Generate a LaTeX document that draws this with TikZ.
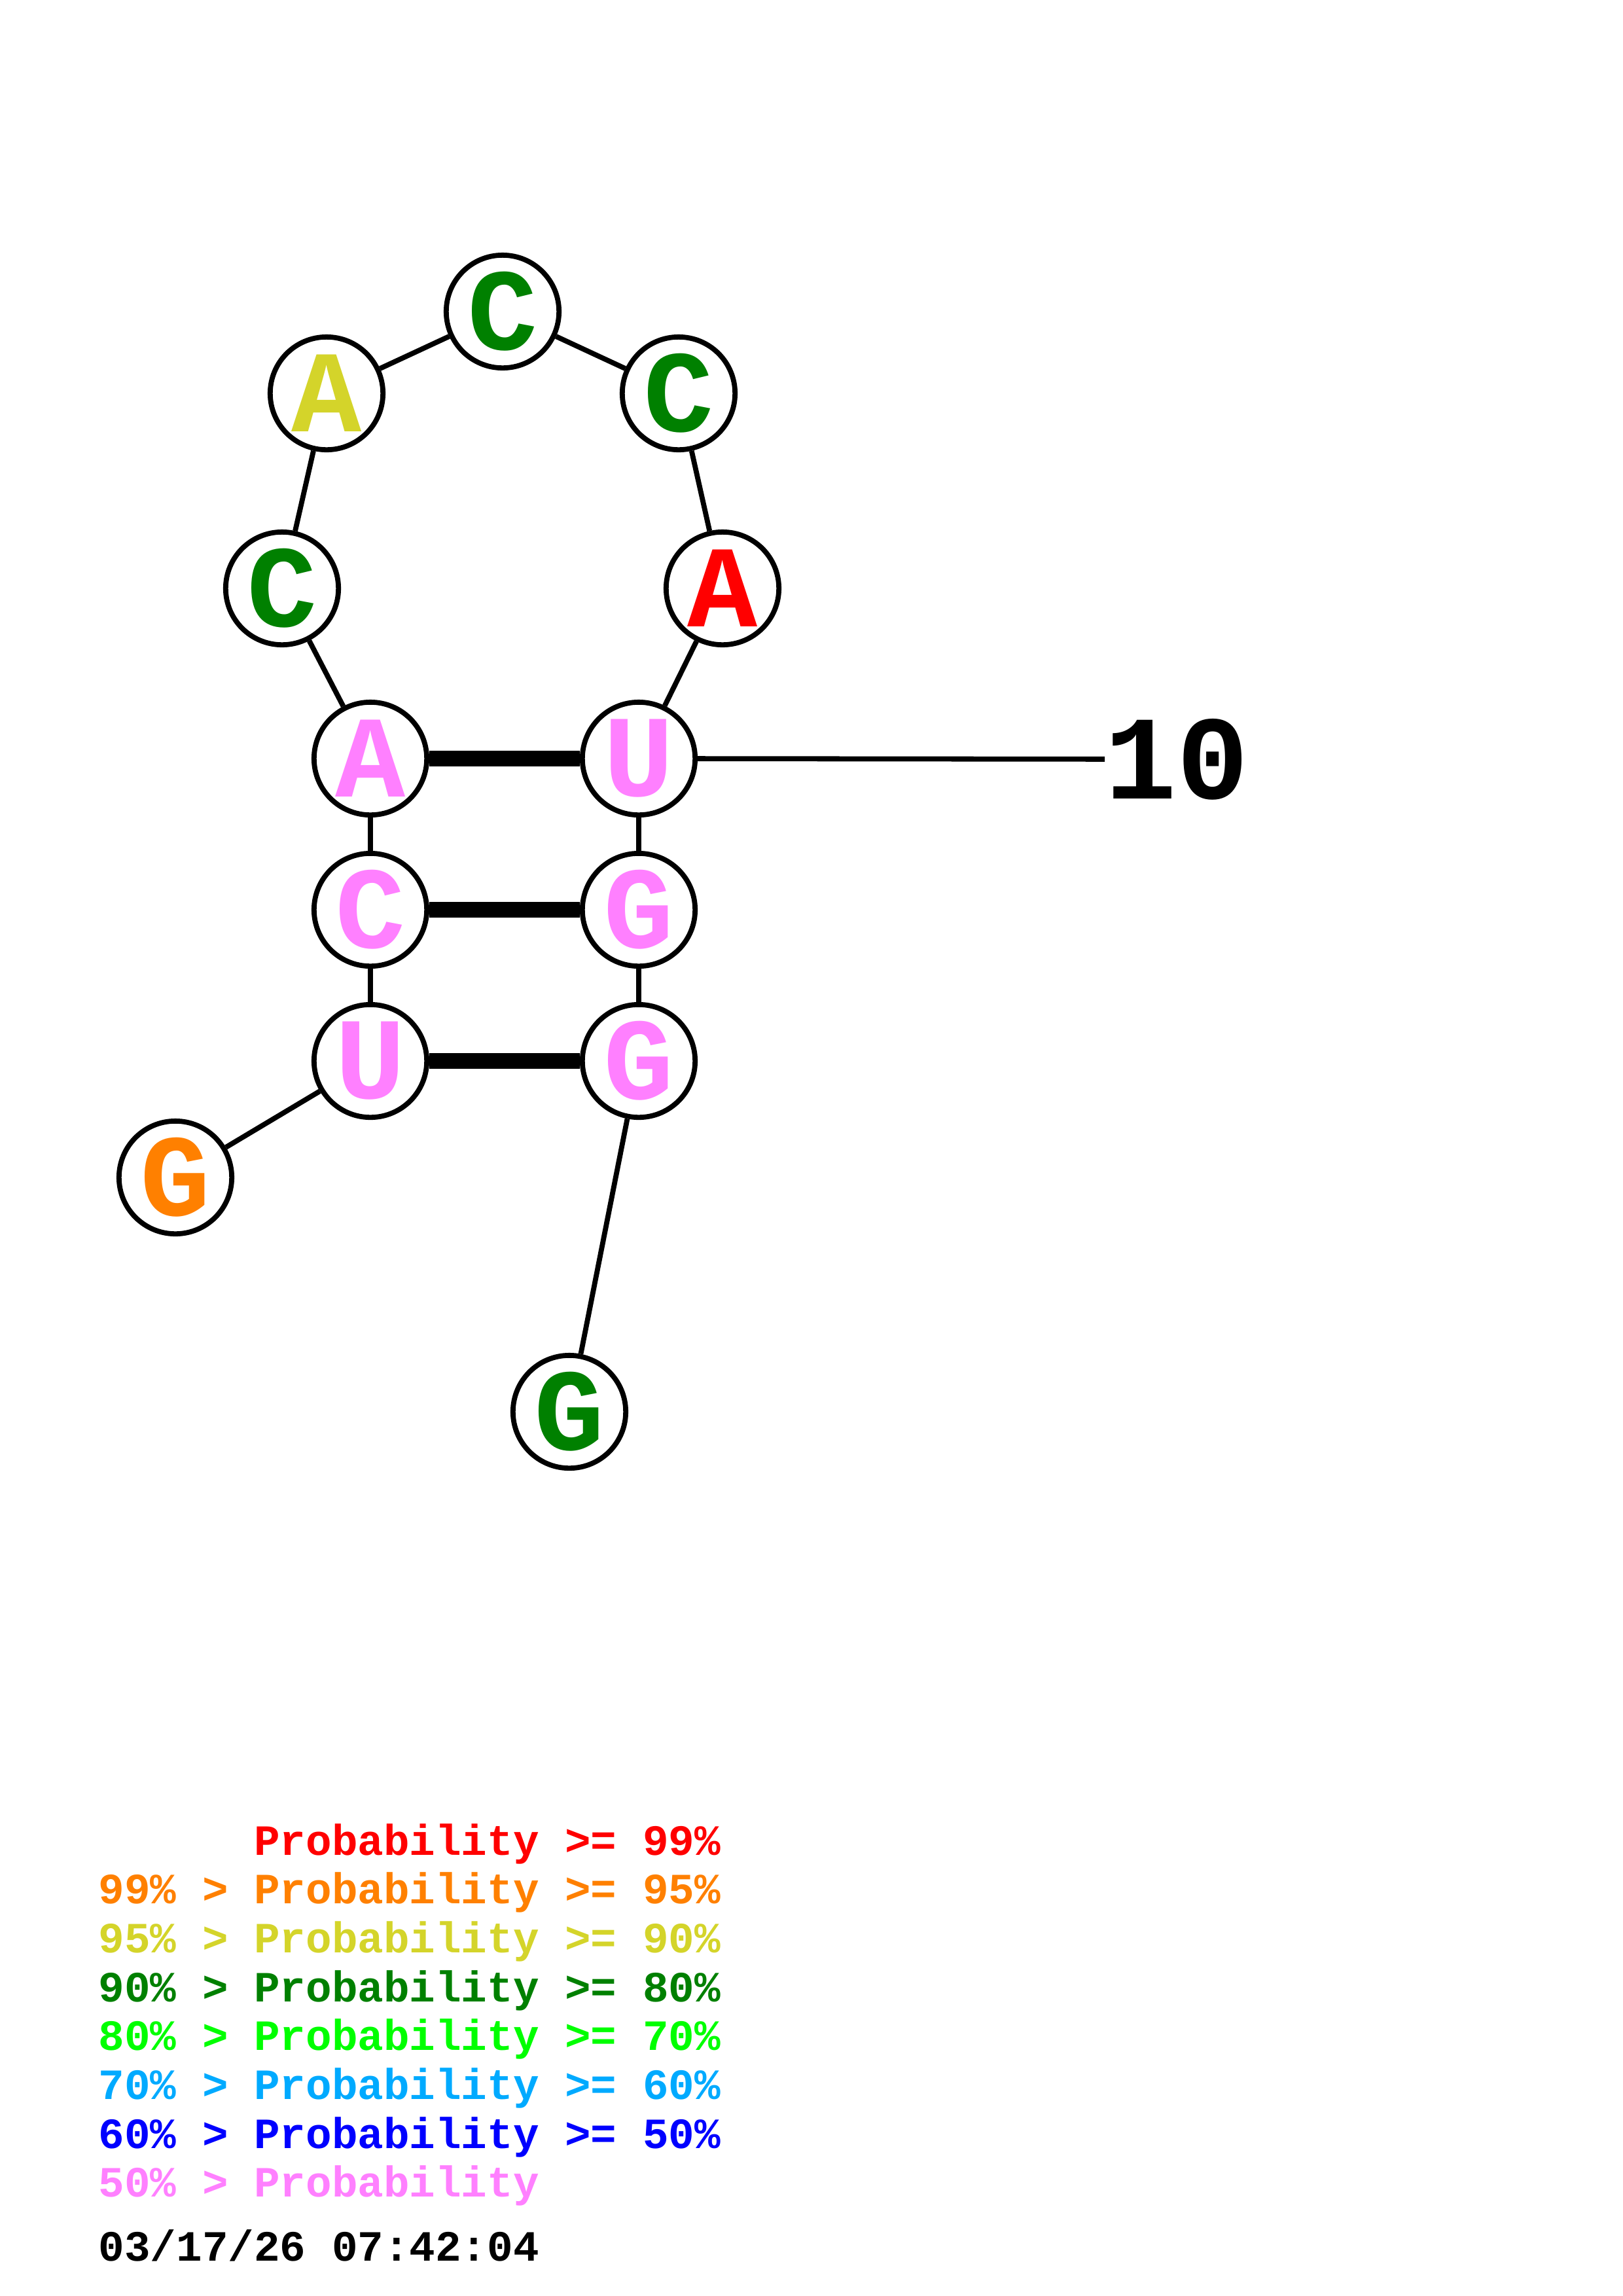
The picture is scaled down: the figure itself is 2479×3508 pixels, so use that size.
\documentclass[tikz,border=0pt]{standalone}
\usepackage{fontspec}
\setmonofont{Liberation Mono}
\begin{document}
\begin{tikzpicture}[x=0.084712mm,y=-0.084712mm]
  % Colors
  \definecolor{prob99}{RGB}{255,0,0}
  \definecolor{prob95}{RGB}{255,128,0}
  \definecolor{prob90}{RGB}{212,212,42}
  \definecolor{prob80}{RGB}{0,128,0}
  \definecolor{prob70}{RGB}{0,255,0}
  \definecolor{prob60}{RGB}{0,170,255}
  \definecolor{prob50}{RGB}{0,0,255}
  \definecolor{problow}{RGB}{255,128,255}

  % Styles
  \tikzstyle{base}=[circle,draw,line width=0.66mm,fill=white,minimum size=14.6mm,inner sep=0pt,
    font=\ttfamily\bfseries\fontsize{43}{43}\selectfont]
  \tikzstyle{backbone}=[line width=0.66mm]
  \tikzstyle{pair}=[line width=2mm]
  \tikzstyle{legend text}=[anchor=base west,inner sep=0pt,
    font=\ttfamily\bfseries\fontsize{15.9}{15.9}\selectfont]

  \useasboundingbox (0,0) rectangle (2479,3508);

  % The bases
  \node[base,text=prob95]  (n1)  at (268,1799) {G};
  \node[base,text=problow] (n2)  at (566,1621) {U};
  \node[base,text=problow] (n3)  at (566,1390) {C};
  \node[base,text=problow] (n4)  at (566,1159) {A};
  \node[base,text=prob80]  (n5)  at (431,899)  {C};
  \node[base,text=prob90]  (n6)  at (499,601)  {A};
  \node[base,text=prob80]  (n7)  at (768,476)  {C};
  \node[base,text=prob80]  (n8)  at (1037,601) {C};
  \node[base,text=prob99]  (n9)  at (1104,899) {A};
  \node[base,text=problow] (n10) at (976,1159) {U};
  \node[base,text=problow] (n11) at (976,1390) {G};
  \node[base,text=problow] (n12) at (976,1621) {G};
  \node[base,text=prob80]  (n13) at (870,2157) {G};

  % Backbone
  \foreach \a/\b in {1/2,2/3,3/4,4/5,5/6,6/7,7/8,8/9,9/10,10/11,11/12,12/13}
    \draw[backbone] (n\a) -- (n\b);

  % Pairs
  \foreach \a/\b in {2/12,3/11,4/10}
    \draw[pair] (n\a) -- (n\b);

  % Numbering
  \node[anchor=west,inner sep=0pt,font=\ttfamily\bfseries\fontsize{44}{44}\selectfont]
    (lbl10) at (1688,1160) {10};
  \draw[backbone] (n10) -- (lbl10);

  % Legend
  \foreach \i/\col/\txt in {0/prob99/{\phantom{99\% > }Probability >= 99\%},
                            1/prob95/{99\% > Probability >= 95\%},
                            2/prob90/{95\% > Probability >= 90\%},
                            3/prob80/{90\% > Probability >= 80\%},
                            4/prob70/{80\% > Probability >= 70\%},
                            5/prob60/{70\% > Probability >= 60\%},
                            6/prob50/{60\% > Probability >= 50\%},
                            7/problow/{50\% > Probability}}
    \node[legend text,text=\col] (key\i) at (150,2834+74.7*\i) {\txt};

  \node[legend text] (stamp) at (150,3454) {03/17/26 07:42:04};
\end{tikzpicture}
\end{document}
